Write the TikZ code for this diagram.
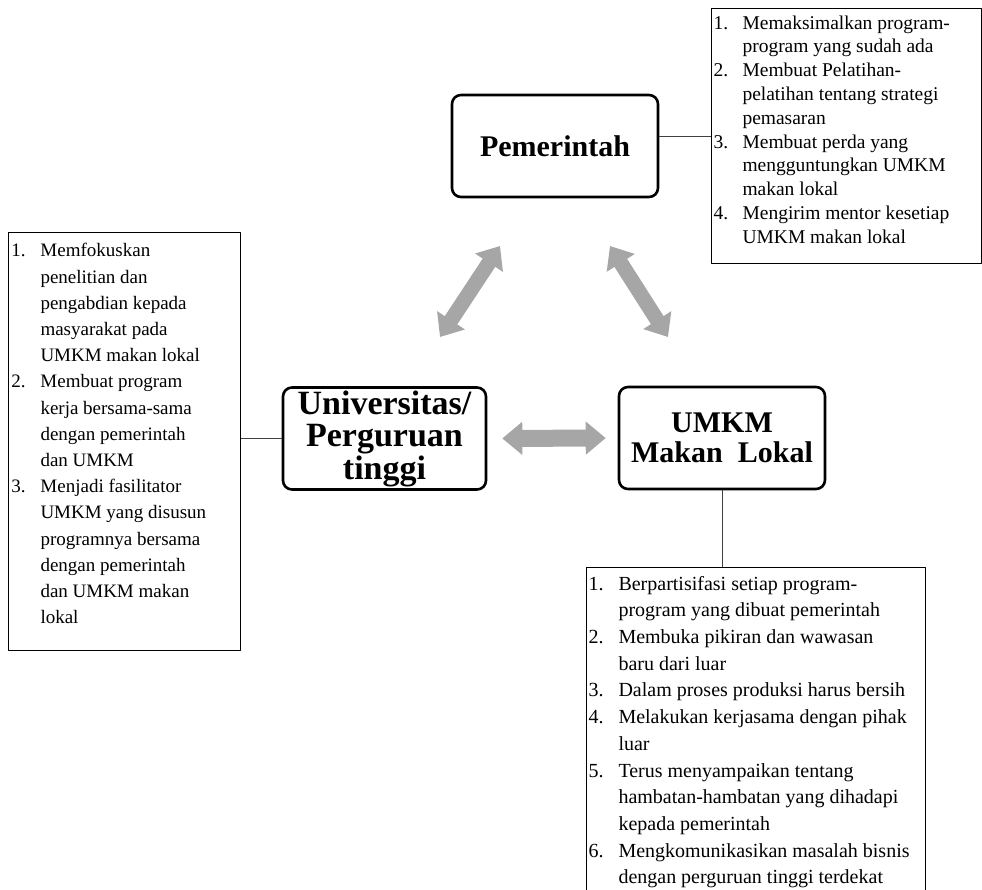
\documentclass[tikz,border=0pt]{standalone}
\usepackage{fontspec}
\setmainfont{Liberation Serif}
\usepackage{tikz}
\usetikzlibrary{arrows.meta}
\definecolor{arrowgray}{HTML}{A6A6A6}
\definecolor{linkgray}{HTML}{404040}

\begin{document}
\begin{tikzpicture}[x=1pt,y=-1pt,line join=round,
  hub/.style={draw,line width=2.6pt,rounded corners=9pt,minimum width=206pt,minimum height=102pt,inner sep=0pt,align=center,font=\fontsize{30}{30}\selectfont\bfseries},
  note/.style={draw,line width=1pt,anchor=north west,inner xsep=2pt,inner ysep=4pt},
  link/.style={line width=0.9pt,color=linkgray},
  twoway/.style={line width=15pt,color=arrowgray,{Triangle[length=20pt,width=32pt]}-{Triangle[length=20pt,width=32pt]}}]
\useasboundingbox (0,0) rectangle (982,890);
% the three partners
\node[hub] (pem) at (555,146) {Pemerintah};
\node[hub,minimum width=203pt,font=\fontsize{34}{32.5}\selectfont\bfseries] (univ) at (384.5,438.5) {Universitas/\\Perguruan\\tinggi};
\node[hub] (umkm) at (722,438) {UMKM\\Makan\ \ Lokal};
% their tasks
\node[note,font=\fontsize{19.5}{23.8}\selectfont] (gov) at (711,8) {\parbox[c][247pt][t]{266pt}{%
\begin{tabular}{@{}p{29pt}@{}l@{}}
1. & Memaksimalkan program-\\
   & program yang sudah ada\\
2. & Membuat Pelatihan-\\
   & pelatihan tentang strategi\\
   & pemasaran\\
3. & Membuat perda yang\\
   & mengguntungkan UMKM\\
   & makan lokal\\
4. & Mengirim mentor kesetiap\\
   & UMKM makan lokal
\end{tabular}}};
\node[note,inner xsep=3pt,inner ysep=6pt,font=\fontsize{19}{26.2}\selectfont] (uni) at (8,232) {\parbox[c][406pt][t]{226pt}{%
\begin{tabular}{@{}p{29pt}@{}l@{}}
1. & Memfokuskan\\
   & penelitian dan\\
   & pengabdian kepada\\
   & masyarakat pada\\
   & UMKM makan lokal\\
2. & Membuat program\\
   & kerja bersama-sama\\
   & dengan pemerintah\\
   & dan UMKM\\
3. & Menjadi fasilitator\\
   & UMKM yang disusun\\
   & programnya bersama\\
   & dengan pemerintah\\
   & dan UMKM makan\\
   & lokal
\end{tabular}}};
\node[note,font=\fontsize{20}{26.7}\selectfont] (biz) at (586,567) {\parbox[c][330pt][t]{335pt}{%
\begin{tabular}{@{}p{30pt}@{}l@{}}
1. & Berpartisifasi setiap program-\\
   & program yang dibuat pemerintah\\
2. & Membuka pikiran dan wawasan\\
   & baru dari luar\\
3. & Dalam proses produksi harus bersih\\
4. & Melakukan kerjasama dengan pihak\\
   & luar\\
5. & Terus menyampaikan tentang\\
   & hambatan-hambatan yang dihadapi\\
   & kepada pemerintah\\
6. & Mengkomunikasikan masalah bisnis\\
   & dengan perguruan tinggi terdekat
\end{tabular}}};
% thin links
\draw[link] (gov.west) -- (gov.west -| pem.east);
\draw[link] (uni.east |- univ.west) -- (univ.west);
\draw[link] (umkm.south) -- (umkm.south |- biz.north);
% two-way arrows
\coordinate (pu1) at (440,337);
\coordinate (pu2) at (500,246);
\coordinate (pm1) at (610,246);
\coordinate (pm2) at (668,337);
\draw[twoway] (pu1) -- (pu2);
\draw[twoway] (pm1) -- (pm2);
\draw[twoway,line width=17pt,shorten <=15pt,shorten >=12pt] (univ.east) -- (umkm.west);
\end{tikzpicture}
\end{document}
